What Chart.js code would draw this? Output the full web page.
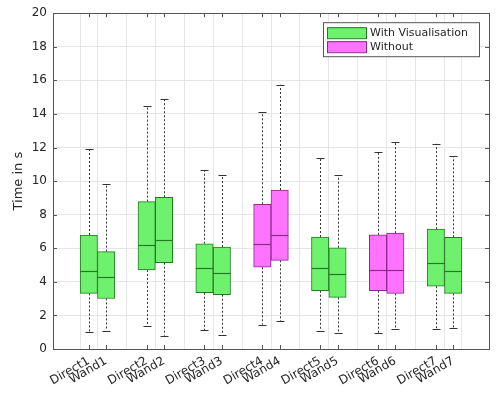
<!DOCTYPE html>
<html>
<head>
  <title>Time boxplot</title>
  <script src="https://cdn.jsdelivr.net/npm/chart.js"></script>
  <style>
    body { margin: 0; background: #fff; }
    #wrap { width: 496px; height: 394px; }
  </style>
</head>
<body>
  <div id="wrap"><canvas id="boxChart"></canvas></div>

  <script>
    // box plot values
    const labels = ['Direct1', 'Wand1', 'Direct2', 'Wand2', 'Direct3', 'Wand3', 'Direct4', 'Wand4',
                    'Direct5', 'Wand5', 'Direct6', 'Wand6', 'Direct7', 'Wand7'];
    const positions = [1, 1.3, 2, 2.3, 3, 3.3, 4, 4.3, 5, 5.3, 6, 6.3, 7, 7.3];
    const lowerWhisker = [1.04, 1.10, 1.39, 0.80, 1.11, 0.86, 1.45, 1.65, 1.10, 0.94, 0.94, 1.19, 1.17, 1.27];
    const q1 = [3.31, 3.01, 4.71, 5.14, 3.35, 3.23, 4.87, 5.28, 3.47, 3.07, 3.47, 3.31, 3.74, 3.31];
    const median = [4.67, 4.30, 6.21, 6.49, 4.83, 4.51, 6.27, 6.76, 4.83, 4.47, 4.69, 4.73, 5.15, 4.67];
    const q3 = [6.79, 5.80, 8.78, 9.04, 6.27, 6.07, 8.62, 9.47, 6.67, 6.03, 6.80, 6.90, 7.14, 6.65];
    const upperWhisker = [11.92, 9.85, 14.49, 14.91, 10.66, 10.36, 14.10, 15.74, 11.39, 10.36, 11.72, 12.30, 12.22, 11.49];
    // 1 = with visualisation, 0 = without
    const withVis = [1, 1, 1, 1, 1, 1, 0, 0, 1, 1, 0, 0, 1, 1];

    const groupNames = ['Without', 'With Visualisation'];
    const fillColors = ['#ff73ff', '#6ef26e'];
    const edgeColors = ['#8a2a8a', '#237a23'];

    function boxData(flag) {
      const out = [];
      positions.forEach((p, i) => {
        if (withVis[i] === flag) out.push({ x: p, y: [q1[i], q3[i]] });
      });
      return out;
    }

    const datasets = [1, 0].map(flag => ({
      label: groupNames[flag],
      data: boxData(flag),
      backgroundColor: fillColors[flag],
      borderColor: edgeColors[flag],
      borderWidth: 1,
      borderSkipped: false,
      grouped: false,
      barPercentage: 1,
      categoryPercentage: 1
    }));

    const textColor = '#262626';

    // whiskers, caps, medians, frame and legend
    const boxExtras = {
      id: 'boxExtras',
      beforeDatasetsDraw(chart) {
        const ctx = chart.ctx;
        const xs = chart.scales.x, ys = chart.scales.y;
        ctx.save();
        ctx.strokeStyle = '#333';
        ctx.lineWidth = 1;
        positions.forEach((p, i) => {
          const x = Math.round(xs.getPixelForValue(p)) + 0.5;
          ctx.setLineDash([2, 2]);
          ctx.beginPath();
          ctx.moveTo(x, ys.getPixelForValue(q3[i]));
          ctx.lineTo(x, ys.getPixelForValue(upperWhisker[i]));
          ctx.moveTo(x, ys.getPixelForValue(q1[i]));
          ctx.lineTo(x, ys.getPixelForValue(lowerWhisker[i]));
          ctx.stroke();
          ctx.setLineDash([]);
          ctx.beginPath();
          const yu = Math.round(ys.getPixelForValue(upperWhisker[i])) + 0.5;
          const yl = Math.round(ys.getPixelForValue(lowerWhisker[i])) + 0.5;
          ctx.moveTo(x - 4, yu); ctx.lineTo(x + 4, yu);
          ctx.moveTo(x - 4, yl); ctx.lineTo(x + 4, yl);
          ctx.stroke();
        });
        ctx.restore();
      },
      afterDatasetsDraw(chart) {
        const ctx = chart.ctx;
        const xs = chart.scales.x, ys = chart.scales.y;
        const half = (xs.getPixelForValue(1.3) - xs.getPixelForValue(1)) / 2;
        ctx.save();
        ctx.lineWidth = 1.2;
        positions.forEach((p, i) => {
          const x = xs.getPixelForValue(p);
          const y = Math.round(ys.getPixelForValue(median[i])) + 0.5;
          ctx.strokeStyle = edgeColors[withVis[i]];
          ctx.beginPath();
          ctx.moveTo(x - half, y);
          ctx.lineTo(x + half, y);
          ctx.stroke();
        });
        ctx.restore();
      },
      afterDraw(chart) {
        const ctx = chart.ctx;
        const a = chart.chartArea;
        const xs = chart.scales.x, ys = chart.scales.y;
        ctx.save();
        // frame
        ctx.strokeStyle = '#555';
        ctx.lineWidth = 1;
        ctx.strokeRect(Math.round(a.left) + 0.5, Math.round(a.top) + 0.5,
                       Math.round(a.right - a.left), Math.round(a.bottom - a.top));
        // inward tick marks
        ctx.beginPath();
        ys.ticks.forEach(t => {
          const y = Math.round(ys.getPixelForValue(t.value)) + 0.5;
          ctx.moveTo(a.left, y); ctx.lineTo(a.left + 4, y);
          ctx.moveTo(a.right, y); ctx.lineTo(a.right - 4, y);
        });
        xs.ticks.forEach(t => {
          const x = Math.round(xs.getPixelForValue(t.value)) + 0.5;
          ctx.moveTo(x, a.bottom); ctx.lineTo(x, a.bottom - 4);
          ctx.moveTo(x, a.top); ctx.lineTo(x, a.top + 4);
        });
        ctx.stroke();

        // legend in the upper right corner
        const lx = a.right - 166, ly = a.top + 9, lw = 156, lh = 34;
        ctx.fillStyle = '#fff';
        ctx.fillRect(lx, ly, lw, lh);
        ctx.strokeStyle = '#555';
        ctx.strokeRect(lx + 0.5, ly + 0.5, lw, lh);
        ctx.font = '11px "DejaVu Sans"';
        ctx.textBaseline = 'middle';
        chart.data.datasets.forEach((ds, k) => {
          const ry = ly + 10 + k * 14;
          ctx.fillStyle = ds.backgroundColor;
          ctx.fillRect(lx + 4, ry - 5, 39, 11);
          ctx.strokeStyle = ds.borderColor;
          ctx.strokeRect(lx + 4.5, ry - 4.5, 39, 11);
          ctx.fillStyle = textColor;
          ctx.fillText(ds.label, lx + 47, ry + 1);
        });
        ctx.restore();
      }
    };

    new Chart(document.getElementById('boxChart').getContext('2d'), {
      type: 'bar',
      data: { datasets: datasets },
      options: {
        responsive: true,
        maintainAspectRatio: false,
        animation: false,
        layout: { padding: { top: 11, right: 7, left: 0, bottom: 0 } },
        plugins: {
          legend: { display: false },
          tooltip: { enabled: false }
        },
        scales: {
          x: {
            type: 'linear',
            min: 0.65,
            max: 7.65,
            afterBuildTicks: scale => {
              scale.ticks = positions.map(v => ({ value: v }));
            },
            afterFit: scale => { scale.height = 45; },
            ticks: {
              autoSkip: false,
              minRotation: 30,
              maxRotation: 30,
              padding: 5,
              color: textColor,
              font: { family: 'DejaVu Sans', size: 12 },
              callback: value => labels[positions.indexOf(value)]
            },
            grid: { color: '#e6e6e6', drawTicks: false },
            border: { display: false }
          },
          y: {
            min: 0,
            max: 20,
            afterFit: scale => { scale.width = 53; },
            ticks: {
              stepSize: 2,
              padding: 6,
              color: textColor,
              font: { family: 'DejaVu Sans', size: 12 }
            },
            grid: { color: '#e6e6e6', drawTicks: false },
            border: { display: false },
            title: {
              display: true,
              text: 'Time in s',
              color: textColor,
              font: { family: 'DejaVu Sans', size: 13 },
              padding: { top: 11, bottom: 0 }
            }
          }
        }
      },
      plugins: [boxExtras]
    });
  </script>
</body>
</html>
